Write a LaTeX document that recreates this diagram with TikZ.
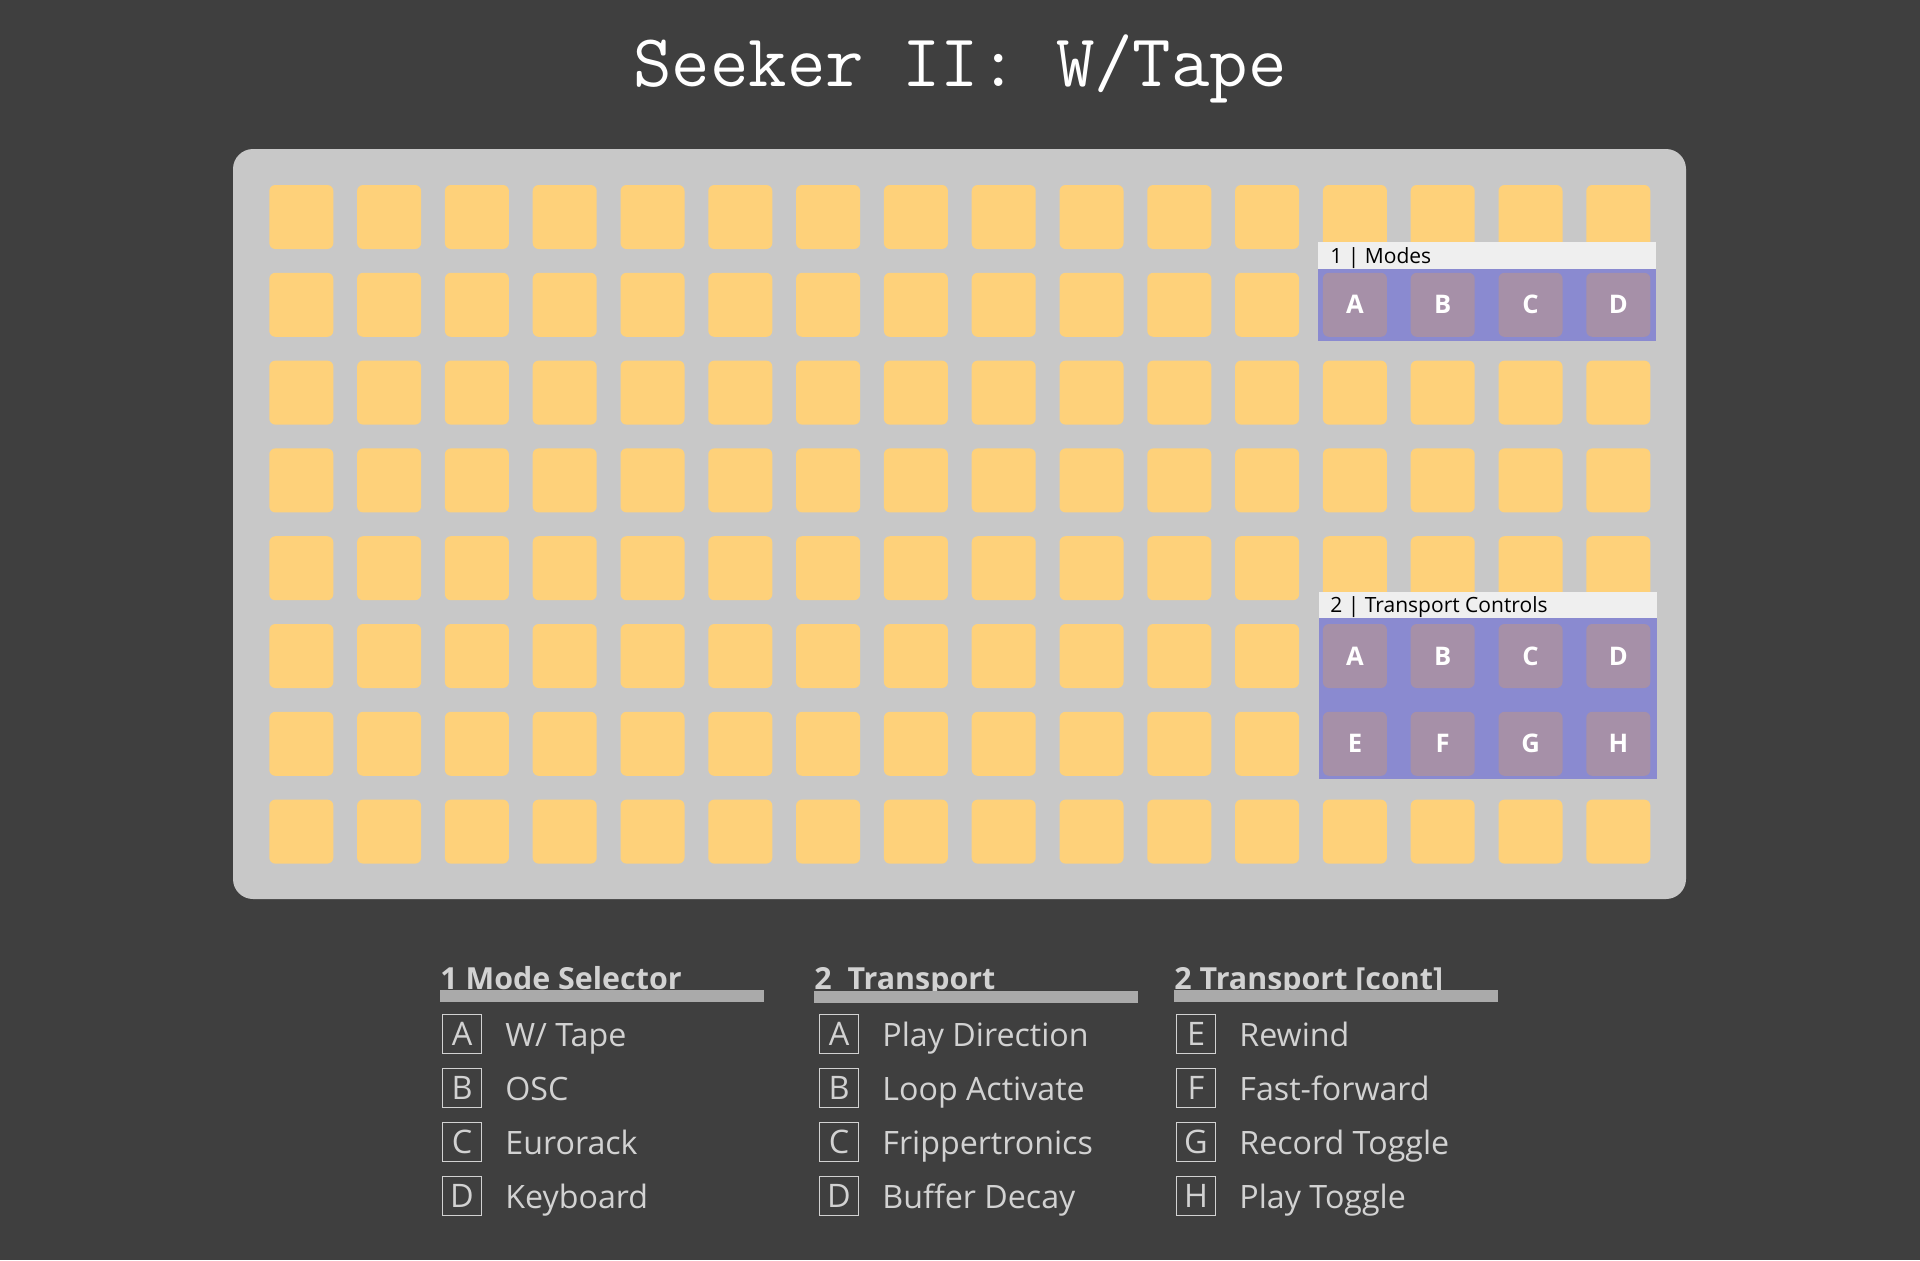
\documentclass[tikz,border=0pt]{standalone}
\usepackage{fontspec}
\setmainfont{Open Sans}
\definecolor{bgc}{HTML}{3F3F3F}
\definecolor{boardc}{HTML}{C8C8C8}
\definecolor{padc}{HTML}{FED17A}
\definecolor{bandc}{HTML}{8A8AD0}
\definecolor{btnc}{HTML}{A690A8}
\definecolor{lblc}{HTML}{EFEFEF}
\definecolor{legc}{HTML}{D2D2D2}
\definecolor{barc}{HTML}{AAAAAA}
\tikzset{
  pad/.style={fill=padc, rounded corners=3pt, minimum size=32pt, inner sep=0pt},
  btn/.style={fill=btnc, rounded corners=3pt, minimum size=32pt, inner sep=0pt, text=white, font=\fontsize{12.8}{14}\selectfont\bfseries},
  lblbox/.style={fill=lblc, anchor=north west, inner sep=0pt, minimum width=169pt},
  lbltext/.style={anchor=west, inner sep=0pt, text=black, font=\fontsize{10.5}{12}\selectfont},
  band/.style={fill=bandc, anchor=north west, inner sep=0pt, minimum width=169pt},
  leghead/.style={anchor=base west, inner sep=0pt, text=legc, font=\fontsize{15.2}{17}\selectfont\bfseries},
  legbar/.style={fill=barc, anchor=north west, inner sep=0pt, minimum width=162pt, minimum height=6pt},
  keybox/.style={draw=legc, line width=0.6pt, minimum size=19.5pt, inner sep=0pt, text=legc, font=\fontsize{16.2}{18}\selectfont},
  keytext/.style={anchor=base west, inner sep=0pt, text=legc, font=\fontsize{16.1}{18}\selectfont}
}
\begin{document}
\begin{tikzpicture}[x=0.5pt,y=-0.5pt]
\fill[bgc] (0,0) rectangle (1920,1260);
\useasboundingbox (0,0) rectangle (1920,1260);
\node[anchor=base, inner sep=0pt, text=white, font=\ttfamily\fontsize{37.3}{40}\selectfont] (title) at (960,86) {Seeker II: W/Tape};
\node[fill=boardc, rounded corners=10pt, minimum width=726.5pt, minimum height=375pt, inner sep=0pt] (board) at (959.5,524) {};
\foreach \r in {0,...,7}
  \foreach \c in {0,...,15}
    \node[pad] (p-\r-\c) at ({301.3+87.8*\c},{217+87.8*\r}) {};
% Modes
\node[band, minimum height=36.2pt] (modesband) at (1318,268.3) {};
\node[lblbox, minimum height=13.15pt] (modeslbl) at (1318,242) {};
\node[lbltext] (modestxt) at (1330,258) {1 | Modes};
\foreach \c/\l in {12/A,13/B,14/C,15/D}
  \node[btn] (m-\l) at ({301.3+87.8*\c},{217+87.8*1}) {\l};
% Transport
\node[band, minimum height=80.5pt] (trband) at (1319,617.7) {};
\node[lblbox, minimum height=12.85pt] (trlbl) at (1319,592) {};
\node[lbltext] (trtxt) at (1330,607.5) {2 | Transport Controls};
\foreach \c/\l in {12/A,13/B,14/C,15/D}
  \node[btn] (t-\l) at ({301.3+87.8*\c},{217+87.8*5}) {\l};
\foreach \c/\l in {12/E,13/F,14/G,15/H}
  \node[btn] (t-\l) at ({301.3+87.8*\c},{217+87.8*6}) {\l};
% Legend column 1
\node[leghead] (h1) at (440,989) {1 Mode Selector};
\node[legbar] (b1) at (440,990) {};
\foreach \i/\l/\t in {0/A/{W/ Tape},1/B/OSC,2/C/Eurorack,3/D/Keyboard}{
  \node[keybox] (k1-\l) at (462,{1034+54*\i}) {\l};
  \node[keytext] (d1-\l) at (505,{1046+54*\i}) {\t};
}
% Legend column 2
\node[leghead] (h2) at (814,989) {2\ \ Transport};
\node[legbar] (b2) at (814,991) {};
\foreach \i/\l/\t in {0/A/Play Direction,1/B/Loop Activate,2/C/Frippertronics,3/D/Buffer Decay}{
  \node[keybox] (k2-\l) at (839,{1034+54*\i}) {\l};
  \node[keytext] (d2-\l) at (882,{1046+54*\i}) {\t};
}
% Legend column 3
\node[leghead] (h3) at (1174,989) {2 Transport [cont]};
\node[legbar] (b3) at (1174,990) {};
\foreach \i/\l/\t in {0/E/Rewind,1/F/Fast-forward,2/G/Record Toggle,3/H/Play Toggle}{
  \node[keybox] (k3-\l) at (1196,{1034+54*\i}) {\l};
  \node[keytext] (d3-\l) at (1239,{1046+54*\i}) {\t};
}
\end{tikzpicture}
\end{document}
